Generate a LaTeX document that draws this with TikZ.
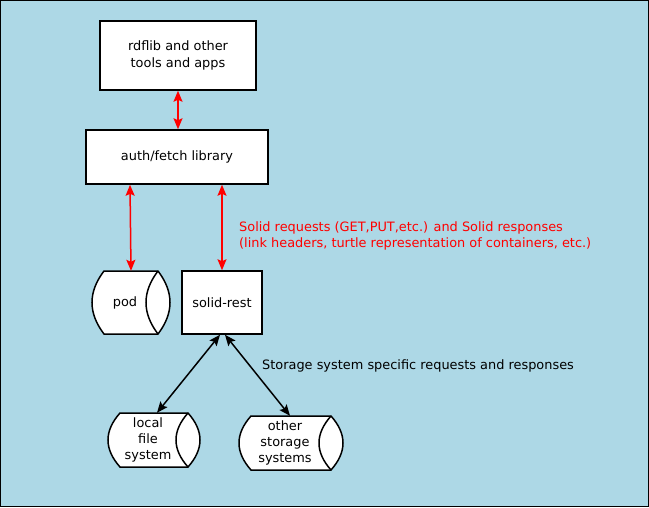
\documentclass[tikz,border=0pt]{standalone}
\usepackage{fontspec}
\setmainfont{DejaVu Sans}
\usetikzlibrary{arrows.meta}
\definecolor{lightblue}{HTML}{ADD8E6}

\newcommand{\storenode}[6]{%
  \begin{scope}[shift={(#2,#3)}]
    \draw[shapeline, fill=white] ({-#4/2+12},{-#5/2}) .. controls ({-#4/2-4},{-#5/6}) and ({-#4/2-4},{#5/6}) .. ({-#4/2+12},{#5/2})
      -- ({#4/2-12},{#5/2}) .. controls ({#4/2+4},{#5/6}) and ({#4/2+4},{-#5/6}) .. ({#4/2-12},{-#5/2}) -- cycle;
    \draw[shapeline] ({#4/2-12},{-#5/2}) .. controls ({#4/2-28},{-#5/6}) and ({#4/2-28},{#5/6}) .. ({#4/2-12},{#5/2});
    \node[minimum width={#4pt-12pt}, minimum height=#5pt, align=center] (#1) at (-6,0) {#6};
  \end{scope}}

\begin{document}
\begin{tikzpicture}[x=1pt, y=-1pt,
                    every node/.style={font=\fontsize{12.9}{16.3}\selectfont, inner sep=0pt},
                    shapeline/.style={line width=1.5pt},
                    box/.style={rectangle, draw, fill=white, line width=1.5pt, align=center},
                    redarrow/.style={red, line width=1.5pt, {Stealth[length=11pt, width=9pt, inset=2pt]}-{Stealth[length=11pt, width=9pt, inset=2pt]}},
                    blackarrow/.style={black, line width=1.5pt, {Stealth[length=11pt, width=9pt, inset=2pt]}-{Stealth[length=11pt, width=9pt, inset=2pt]}}
                ]
    \useasboundingbox (0,0) rectangle (649,507);
    \draw[fill=lightblue, line width=1pt] (0.5,0.5) rectangle (648.5,506.5);

    \node[box, minimum width=156pt, minimum height=69pt] (rdflib) at (178,55.5) {rdflib and other\\tools and apps};
    \node[box, minimum width=182pt, minimum height=54pt] (auth) at (177,157) {auth/fetch library};
    \node[box, minimum width=80pt, minimum height=63pt] (rest) at (222,302.5) {solid-rest};
    \storenode{pod}{131}{302.5}{78}{63}{pod}
    \storenode{local}{154}{440}{92}{54}{local\\file\\system}
    \storenode{other}{291}{443}{104}{54}{other\\storage\\systems}

    \draw[redarrow] (rdflib.south) -- (rdflib.south |- auth.north);
    \draw[redarrow] ([xshift=-47pt]auth.south) -- ([xshift=6pt]pod.north);
    \draw[redarrow] (auth.south -| rest.north) -- (rest.north);
    \draw[blackarrow] ([xshift=-2pt]rest.south) -- ([xshift=9pt]local.north);
    \draw[blackarrow] ([xshift=3pt]rest.south) -- ([xshift=5pt]other.north);

    \node[red, anchor=west, align=left] (solidlabel) at (239,236) {Solid requests (GET,PUT,etc.) and Solid responses\\(link headers, turtle representation of containers, etc.)};
    \node[anchor=west] (storelabel) at (262,366) {Storage system specific requests and responses};
\end{tikzpicture}
\end{document}
